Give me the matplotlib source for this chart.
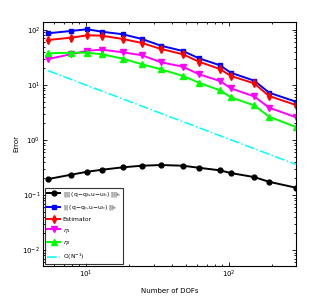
import matplotlib
matplotlib.use("Agg")
import matplotlib.pyplot as plt
import numpy as np

dofs = [5.42, 7.85, 10.2, 12.9, 18.1, 24.6, 33.4, 47.6, 61.6, 86.5, 103, 150, 191, 294]
err_energy = [0.195, 0.234, 0.265, 0.288, 0.319, 0.341, 0.351, 0.341, 0.313, 0.281, 0.251, 0.212, 0.174, 0.136]
err_h = [87, 96, 103, 93, 83.5, 68.6, 51.8, 41.5, 30.6, 22.8, 16.7, 12.0, 7.25, 4.97]
estimator = [65.8, 72.4, 80, 78.8, 68.6, 58, 45.2, 36.2, 26.5, 19.5, 14.6, 10.7, 6.3, 4.33]
eta1 = [29.7, 36.2, 42, 43.8, 39.3, 34.7, 25.9, 21.5, 15.7, 11.8, 8.7, 6.2, 3.87, 2.59]
eta2 = [37.7, 38.6, 38.6, 36.2, 30.1, 23.8, 19.3, 14.6, 11.0, 8.0, 5.97, 4.27, 2.65, 1.72]
ref_x = [5.42, 294]
ref_y = [18.2, 0.36]

labels = [r"||| (q$-$q$_h$,u$-$u$_h$) |||$_h$",
          r"|| (q$-$q$_h$,u$-$u$_h$) ||$_h$",
          "Estimator", r"$\eta_1$", r"$\eta_2$", r"O(N$^{-1}$)"]

fig = plt.figure(figsize=(3.27, 3.0), dpi=100)
ax = fig.add_axes([43/327, 1-266/300, (296-43)/327, (266-22)/300])

lw = 1.4
ms = 3.5
ax.loglog(dofs, err_energy, '-o', color='black', lw=lw, ms=ms, label=labels[0])
ax.loglog(dofs, err_h, '-s', color='blue', lw=lw, ms=ms, label=labels[1])
ax.loglog(dofs, estimator, '-d', color='red', lw=lw, ms=ms+0.5, label=labels[2])
ax.loglog(dofs, eta1, '-v', color='magenta', lw=lw, ms=ms+0.5, label=labels[3])
ax.loglog(dofs, eta2, '-^', color='#00ff00', lw=lw, ms=ms+0.5, label=labels[4])
ax.loglog(ref_x, ref_y, '-.', color='cyan', lw=1.1, label=labels[5])

ax.set_xlim(10**0.699, 10**2.469)
ax.set_ylim(10**-2.29, 10**2.145)
ax.tick_params(labelsize=5, direction='in', which='both', top=True, right=True, width=0.6, pad=2)
ax.tick_params(which='major', length=3)
ax.tick_params(which='minor', length=1.5)
for s in ax.spines.values():
    s.set_linewidth(0.8)
ax.set_xlabel("Number of DOFs", fontsize=5, labelpad=6)
ax.set_ylabel("Error", fontsize=5, labelpad=2)

leg = ax.legend(loc='lower left', fontsize=4.3, frameon=True, fancybox=False,
                edgecolor='black', handlelength=2.2, handletextpad=0.4,
                borderaxespad=0.3, labelspacing=0.75)
leg.get_frame().set_linewidth(0.8)

fig.savefig("out.png", dpi=100)
